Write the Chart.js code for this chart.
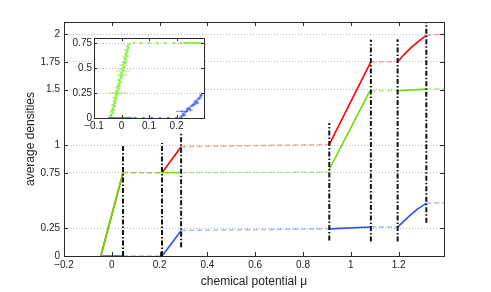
<!DOCTYPE html>
<html><head><meta charset="utf-8">
<script src="https://cdn.jsdelivr.net/npm/chart.js@4"></script>
<style>
html,body{margin:0;padding:0;background:#fff;}
#wrap{position:relative;width:491px;height:292px;overflow:hidden;}
#main{position:absolute;left:0;top:0;width:491px;height:292px;}
#inset{position:absolute;left:60px;top:30px;width:150px;height:104px;}
</style></head><body>
<div id="wrap">
<canvas id="main" width="491" height="292"></canvas>
<canvas id="inset" width="150" height="104"></canvas>
</div>
<script>
// ---------- tick labels ----------
const xTicks = [-0.2, 0, 0.2, 0.4, 0.6, 0.8, 1, 1.2];
const yTicks = [0, 0.25, 0.75, 1, 1.5, 1.75, 2];
const insetXTicks = [-0.1, 0, 0.1, 0.2];
const insetYTicks = [0, 0.25, 0.5, 0.75];

// ---------- phase boundaries (vertical dash-dot lines) ----------
const boundMu   = [0.047, 0.21, 0.29, 0.91, 1.084, 1.196, 1.316];
const boundLow  = [0,     0,    0.08, 0.14, 0.13,  0.13,  0.30];
const boundHigh = [1.0,   1.02, 1.11, 1.20, 1.95,  1.955, 2.11];

// ---------- total density (red) ----------
const totalSolidX = [-0.046, 0.047, null, 0.21, 0.29, null, 0.91, 1.084, null, 1.196, 1.22, 1.25, 1.28, 1.316];
const totalSolidY = [0, 0.75, null, 0.75, 0.985, null, 1.006, 1.75, null, 1.75, 1.81, 1.875, 1.93, 1.99];
const totalDashX  = [0.047, 0.21, null, 0.29, 0.91, null, 1.084, 1.196, null, 1.316, 1.39];
const totalDashY  = [0.75, 0.75, null, 0.985, 1.006, null, 1.75, 1.75, null, 1.99, 2.0];

// ---------- species A density (green) ----------
const greenSolidX = [-0.046, 0.047, null, 0.21, 0.29, null, 0.91, 1.08, null, 1.196, 1.316];
const greenSolidY = [0, 0.753, null, 0.75, 0.753, null, 0.78, 1.49, null, 1.49, 1.505];
const greenDashX  = [0.047, 0.21, null, 0.29, 0.91, null, 1.084, 1.196, null, 1.316, 1.39];
const greenDashY  = [0.753, 0.75, null, 0.753, 0.755, null, 1.49, 1.49, null, 1.505, 1.51];

// ---------- species B density (blue) ----------
const blueSolidX = [-0.046, 0.047, null, 0.21, 0.29, null, 0.91, 1.084, null, 1.196, 1.22, 1.25, 1.28, 1.316];
const blueSolidY = [0, 0, null, 0, 0.228, null, 0.245, 0.262, null, 0.26, 0.31, 0.37, 0.425, 0.475];
const blueDashX  = [0.047, 0.21, null, 0.29, 0.91, null, 1.084, 1.196, null, 1.316, 1.39];
const blueDashY  = [0, 0, null, 0.23, 0.245, null, 0.262, 0.262, null, 0.475, 0.48];

// ---------- inset: green points with horizontal error bars ----------
const insetGreenX = [-0.040,-0.037,-0.039,-0.033,-0.035,-0.030,-0.031,-0.026,-0.030,-0.024,-0.025,-0.020,-0.024,-0.018,-0.020,-0.015,-0.017,-0.011,-0.014,-0.009,-0.010,-0.005,-0.008,-0.001,-0.003,0.002,0.000,0.005,0.002,0.009,0.006,0.012,0.009,0.015,0.012,0.018,0.016,0.021,0.019,0.025,0.023,0.029,
  0.045,0.070,0.100,0.130,0.160,0.190,0.215,0.230,0.240,0.250,0.260,0.270,0.280,0.290];
const insetGreenY = [0.00,0.02,0.03,0.05,0.07,0.08,0.10,0.12,0.13,0.15,0.17,0.19,0.20,0.22,0.24,0.25,0.27,0.29,0.31,0.32,0.34,0.36,0.38,0.40,0.42,0.43,0.45,0.47,0.49,0.51,0.53,0.55,0.56,0.58,0.60,0.62,0.64,0.66,0.68,0.70,0.72,0.74,
  0.75,0.75,0.75,0.75,0.75,0.75,0.75,0.75,0.751,0.75,0.751,0.75,0.751,0.75];
const insetGreenErr = [0.004,0.006,0.005,0.008,0.006,0.010,0.007,0.006,0.009,0.007,0.008,0.006,0.010,0.007,0.009,0.032,0.008,0.007,0.010,0.006,0.009,0.008,0.011,0.007,0.009,0.020,0.008,0.025,0.010,0.007,0.015,0.008,0.010,0.007,0.009,0.012,0.008,0.006,0.009,0.005,0.007,0.004,
  0.006,0.005,0.006,0.005,0.006,0.005,0.006,0.008,0.007,0.008,0.007,0.008,0.007,0.006];

// ---------- inset: blue points with horizontal error bars ----------
const insetBlueX = [-0.045,-0.035,-0.025,-0.015,-0.005,0.005,0.015,0.025,0.035,0.050,0.080,0.110,0.140,0.170,0.200,
  0.215,0.220,0.225,0.228,0.232,0.220,0.238,0.240,0.246,0.250,0.255,0.260,0.265,0.268,0.272,0.276,0.280,0.284,0.288,0.290];
const insetBlueY = [0,0,0,0,0,0,0,0,0,0,0,0,0,0,0,
  0.005,0.02,0.04,0.03,0.06,0.066,0.07,0.09,0.10,0.08,0.12,0.13,0.14,0.16,0.17,0.15,0.19,0.20,0.22,0.23];
const insetBlueErr = [0.006,0.008,0.007,0.009,0.008,0.007,0.009,0.008,0.010,0.006,0.005,0.006,0.005,0.006,0.005,
  0.006,0.007,0.006,0.008,0.007,0.022,0.006,0.008,0.007,0.009,0.008,0.006,0.009,0.007,0.008,0.006,0.007,0.008,0.006,0.005];

// ---------- helpers ----------
function pts(X, Y) {
  const out = [];
  let lastX = 0;
  for (let i = 0; i < X.length; i++) {
    if (X[i] === null) { out.push({x: lastX, y: null}); }
    else { out.push({x: X[i], y: Y[i]}); lastX = X[i]; }
  }
  return out;
}
function vlines(M, L, H) {
  const out = [];
  for (let i = 0; i < M.length; i++) {
    out.push({x: M[i], y: L[i]}, {x: M[i], y: H[i]}, {x: M[i], y: null});
  }
  return out;
}
function errBars(X, Y, E) {
  const out = [];
  for (let i = 0; i < X.length; i++) {
    out.push({x: X[i] - E[i], y: Y[i]}, {x: X[i] + E[i], y: Y[i]}, {x: X[i], y: null});
  }
  return out;
}
function centers(X, Y) { return X.map((x, i) => ({x: x, y: Y[i]})); }
function fmt(v) {
  if (Math.abs(v) < 1e-9) return '0';
  const s = String(Math.round(Math.abs(v) * 100) / 100);
  return v < 0 ? '\u2212' + s : s;
}

const RED = '#ff0000', RED_L = 'rgba(255,90,90,0.55)';
const GREEN = '#66e000', GREEN_L = 'rgba(120,230,40,0.55)';
const BLUE = '#2e4dff', BLUE_L = 'rgba(80,110,255,0.5)';
const IN_GREEN = 'rgba(120,235,40,0.7)', IN_BLUE = 'rgba(60,90,255,0.7)';
const FONT = "'Liberation Sans', Arial, Helvetica, sans-serif";

const frame = {
  id: 'frame',
  beforeDraw(chart, args, opts) {
    if (opts.fill) {
      const a = chart.chartArea, c = chart.ctx;
      c.save(); c.fillStyle = '#fff';
      c.fillRect(a.left, a.top, a.right - a.left, a.bottom - a.top);
      c.restore();
    }
  },
  afterDraw(chart, args, opts) {
    const a = chart.chartArea, c = chart.ctx;
    const xs = chart.scales.x, ys = chart.scales.y;
    const L = opts.len || 4;
    c.save();
    c.strokeStyle = '#2b2b2b'; c.lineWidth = 1;
    c.beginPath();
    xs.ticks.forEach(t => {
      const p = Math.round(xs.getPixelForValue(t.value)) + 0.5;
      c.moveTo(p, a.bottom); c.lineTo(p, a.bottom - L);
      c.moveTo(p, a.top); c.lineTo(p, a.top + L);
    });
    ys.ticks.forEach(t => {
      const p = Math.round(ys.getPixelForValue(t.value)) + 0.5;
      c.moveTo(a.left, p); c.lineTo(a.left + L, p);
      c.moveTo(a.right, p); c.lineTo(a.right - L, p);
    });
    c.stroke();
    c.strokeRect(Math.round(a.left) + 0.5, Math.round(a.top) + 0.5,
                 Math.round(a.right - a.left), Math.round(a.bottom - a.top));
    c.restore();
  }
};

function lineDs(data, color, width, dash, order) {
  return {data: data, showLine: true, borderColor: color, borderWidth: width,
          borderDash: dash, pointRadius: 0, spanGaps: false, order: order, tension: 0};
}

new Chart(document.getElementById('main'), {
  type: 'scatter',
  data: {datasets: [
    lineDs(vlines(boundMu, boundLow, boundHigh), '#111', 2, [5, 2, 1.5, 2], 0),
    lineDs(pts(greenSolidX, greenSolidY), GREEN, 1.6, [], 1),
    lineDs(pts(blueSolidX, blueSolidY), BLUE, 1.6, [], 2),
    lineDs(pts(totalSolidX, totalSolidY), RED, 1.6, [], 3),
    lineDs(pts(greenDashX, greenDashY), GREEN_L, 1.4, [5, 3], 4),
    lineDs(pts(blueDashX, blueDashY), BLUE_L, 1.4, [5, 3], 5),
    lineDs(pts(totalDashX, totalDashY), RED_L, 1.4, [5, 3], 6)
  ]},
  options: {
    responsive: false, animation: false,
    layout: {padding: {left: 0, right: 47, top: 22, bottom: 0}},
    plugins: {legend: {display: false}, tooltip: {enabled: false}, frame: {len: 4}},
    scales: {
      x: {
        type: 'linear', min: -0.2, max: 1.39,
        afterBuildTicks: s => { s.ticks = xTicks.map(v => ({value: v})); },
        afterFit: s => { s.height = 36; },
        grid: {display: false, drawTicks: false},
        border: {display: false},
        ticks: {color: '#222', font: {family: FONT, size: 10}, padding: 3, maxRotation: 0, autoSkip: false,
                callback: v => fmt(v)},
        title: {display: true, text: 'chemical potential \u03bc', color: '#222',
                font: {family: FONT, size: 12}, padding: {top: 0, bottom: 3}}
      },
      y: {
        type: 'linear', min: 0, max: 2.11,
        afterBuildTicks: s => { s.ticks = yTicks.map(v => ({value: v})); },
        afterFit: s => { s.width = 64; },
        grid: {display: true, drawTicks: false, color: '#b8b8b8', lineWidth: 1},
        border: {display: false, dash: [1, 2]},
        ticks: {color: '#222', font: {family: FONT, size: 10}, padding: 4, autoSkip: false,
                callback: v => fmt(v)},
        title: {display: true, text: 'average densities', color: '#222',
                font: {family: FONT, size: 12}, padding: {top: 23, bottom: 0}}
      }
    }
  },
  plugins: [frame]
});

new Chart(document.getElementById('inset'), {
  type: 'scatter',
  data: {datasets: [
    lineDs(errBars(insetGreenX, insetGreenY, insetGreenErr), IN_GREEN, 1, [], 2),
    lineDs(errBars(insetBlueX, insetBlueY, insetBlueErr), IN_BLUE, 1, [], 1),
    {data: centers(insetGreenX, insetGreenY), showLine: false, pointStyle: 'circle', pointRadius: 0.9,
     backgroundColor: IN_GREEN, borderColor: IN_GREEN, borderWidth: 0.5, order: 2},
    {data: centers(insetBlueX, insetBlueY), showLine: false, pointStyle: 'circle', pointRadius: 0.9,
     backgroundColor: IN_BLUE, borderColor: IN_BLUE, borderWidth: 0.5, order: 1}
  ]},
  options: {
    responsive: false, animation: false,
    layout: {padding: {left: 0, right: 6, top: 4, bottom: 0}},
    plugins: {legend: {display: false}, tooltip: {enabled: false}, frame: {len: 3, fill: true}},
    scales: {
      x: {
        type: 'linear', min: -0.1, max: 0.3,
        afterBuildTicks: s => { s.ticks = insetXTicks.map(v => ({value: v})); },
        afterFit: s => { s.height = 16; },
        grid: {display: false, drawTicks: false},
        border: {display: false},
        ticks: {color: '#222', font: {family: FONT, size: 10}, padding: 2, maxRotation: 0, autoSkip: false,
                callback: v => fmt(v)}
      },
      y: {
        type: 'linear', min: 0, max: 0.8,
        afterBuildTicks: s => { s.ticks = insetYTicks.map(v => ({value: v})); },
        afterFit: s => { s.width = 34; },
        grid: {display: true, drawTicks: false, color: '#b8b8b8', lineWidth: 1},
        border: {display: false, dash: [1, 2]},
        ticks: {color: '#222', font: {family: FONT, size: 10}, padding: 2, autoSkip: false,
                callback: v => fmt(v)}
      }
    }
  },
  plugins: [frame]
});
</script>
</body></html>
